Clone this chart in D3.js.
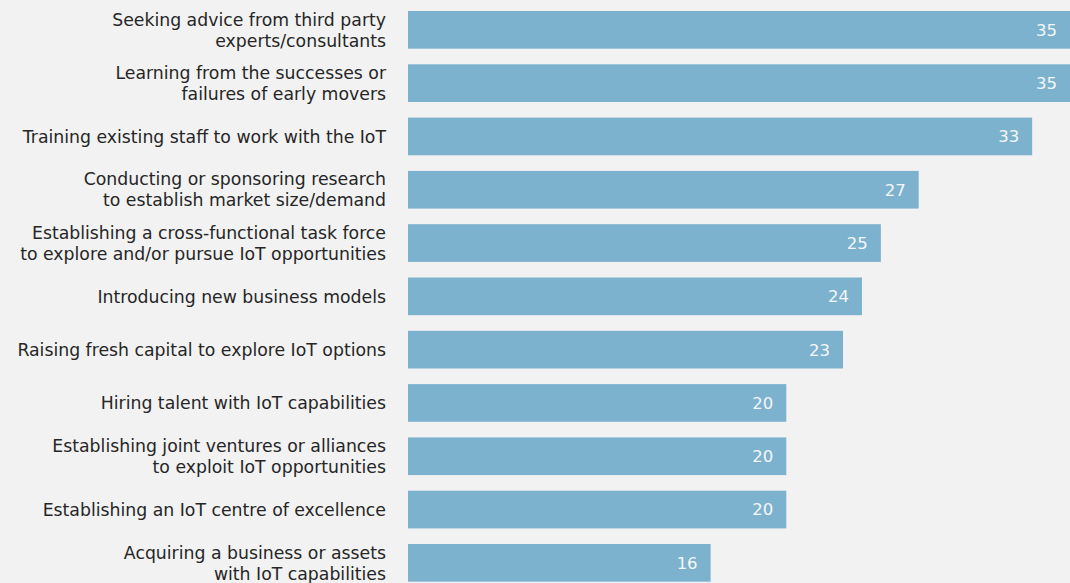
<!DOCTYPE html>
<html>
<head>
<meta charset="utf-8">
<script src="https://cdn.jsdelivr.net/npm/d3@7"></script>
<style>
  html, body { margin: 0; padding: 0; background: #f2f2f2; }
  svg { display: block; }
</style>
</head>
<body>
<svg id="chart" width="1070" height="583"></svg>
<script>
// Actions taken to prepare for IoT (percentage of respondents)
const categories = [
  ["Seeking advice from third party", "experts/consultants"],
  ["Learning from the successes or", "failures of early movers"],
  ["Training existing staff to work with the IoT"],
  ["Conducting or sponsoring research", "to establish market size/demand"],
  ["Establishing a cross-functional task force", "to explore and/or pursue IoT opportunities"],
  ["Introducing new business models"],
  ["Raising fresh capital to explore IoT options"],
  ["Hiring talent with IoT capabilities"],
  ["Establishing joint ventures or alliances", "to exploit IoT opportunities"],
  ["Establishing an IoT centre of excellence"],
  ["Acquiring a business or assets", "with IoT capabilities"]
];
const values = [35, 35, 33, 27, 25, 24, 23, 20, 20, 20, 16];

const W = 1070, H = 583;
const svg = d3.select("#chart");
const font = "'Century Gothic', 'URW Gothic', 'DejaVu Sans', sans-serif";

svg.append("rect").attr("width", W).attr("height", H).attr("fill", "#f2f2f2");

const keys = categories.map((c, i) => i);
const y = d3.scaleBand().domain(keys).range([11, 581.7]).paddingInner(0.293).paddingOuter(0);
const x = d3.scaleLinear().domain([0, 35]).range([408, 1070]);

const rows = svg.append("g").selectAll("g").data(keys).join("g");

rows.append("rect")
  .attr("x", x(0))
  .attr("y", i => y(i))
  .attr("width", i => x(values[i]) - x(0))
  .attr("height", y.bandwidth())
  .attr("fill", "#7db2ce");

rows.append("text")
  .attr("x", i => x(values[i]) - 13)
  .attr("y", i => y(i) + y.bandwidth() / 2)
  .attr("dy", "0.36em")
  .attr("text-anchor", "end")
  .attr("font-family", font)
  .attr("font-size", 16.5)
  .attr("fill", "#f4f6f8")
  .text(i => values[i]);

const lineH = 21;
rows.append("text")
  .attr("text-anchor", "end")
  .attr("font-family", font)
  .attr("font-size", 17.3)
  .attr("fill", "#262626")
  .each(function(i) {
    const lines = categories[i];
    const cy = y(i) + y.bandwidth() / 2;
    const start = cy - (lines.length - 1) * lineH / 2;
    d3.select(this).selectAll("tspan").data(lines).join("tspan")
      .attr("x", 386)
      .attr("y", (d, k) => start + k * lineH)
      .attr("dy", "0.36em")
      .text(d => d);
  });
</script>
</body>
</html>
